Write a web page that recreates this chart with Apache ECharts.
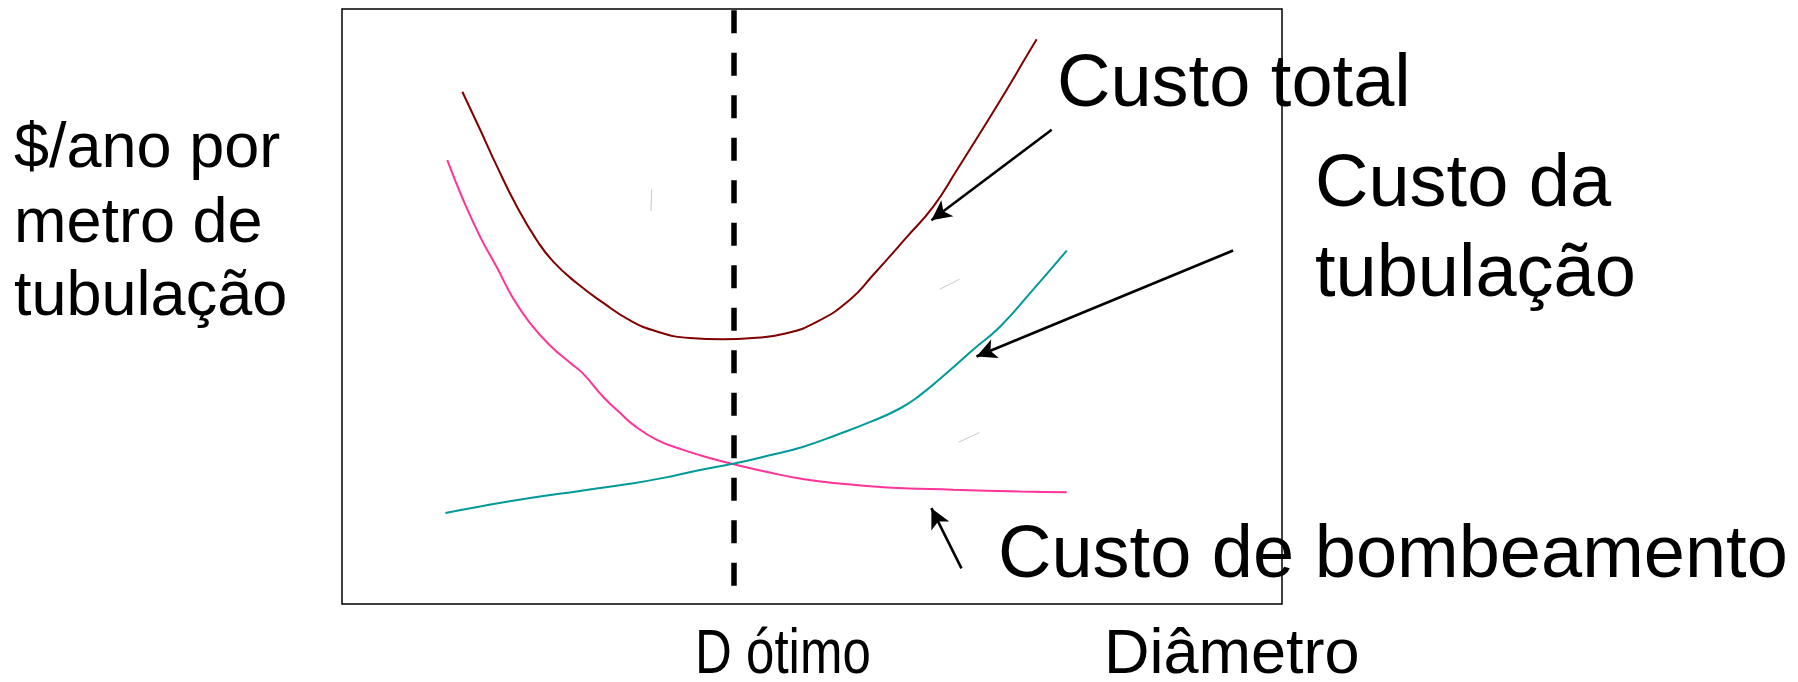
<!DOCTYPE html>
<html>
<head>
<meta charset="utf-8">
<script src="https://cdn.jsdelivr.net/npm/echarts@6/dist/echarts.min.js"></script>
<style>
  html, body { margin: 0; padding: 0; background: #fff; }
  #grafico { width: 1798px; height: 682px; }
</style>
</head>
<body>
<div id="grafico"></div>
<script>
// curvas (diametro 0-100, custo 0-100)
var custoTotal = [
  [12.8, 86.1], [14.7, 79.7], [16.5, 73.5], [18.6, 66.8], [20.7, 61.2], [22.5, 57.5],
  [25.0, 53.9], [27.8, 50.6], [30.6, 47.7], [33.5, 45.8], [37.0, 44.7], [40.5, 44.5],
  [43.7, 44.7], [47.3, 45.5], [50.5, 47.4], [54.0, 51.1], [56.5, 55.3], [60.1, 61.7],
  [62.9, 66.8], [65.4, 72.9], [67.9, 79.2], [70.7, 86.4], [72.8, 92.0], [73.9, 94.9]
];
var custoBombeamento = [
  [11.2, 74.6], [12.9, 67.9], [14.7, 61.7], [16.5, 56.5], [18.2, 51.4], [20.0, 47.2],
  [22.1, 43.5], [24.3, 40.5], [25.6, 38.8], [27.8, 34.8], [29.6, 32.1], [31.0, 30.1],
  [33.5, 27.6], [36.3, 25.9], [39.2, 24.5], [41.7, 23.5], [45.5, 22.1], [49.0, 21.0],
  [52.6, 20.3], [58.0, 19.6], [65.0, 19.2], [72.1, 18.9], [77.1, 18.8]
];
var custoTubulacao = [
  [11.0, 15.3], [14.7, 16.4], [20.0, 17.8], [25.3, 19.0], [30.6, 20.2], [34.2, 21.2],
  [37.7, 22.4], [41.7, 23.6], [45.5, 25.0], [49.0, 26.4], [52.6, 28.4], [56.2, 30.6],
  [59.4, 32.9], [61.5, 35.1], [64.3, 38.8], [67.1, 42.7], [70.0, 46.6], [73.5, 52.8],
  [77.1, 59.4]
];
var dOtimo = 41.7;
var dOtimoFaixa = [3.0, 99.8];
// setas: [origem, ponta]
var setas = [
  [[75.5, 79.7], [62.7, 64.5]],
  [[94.8, 59.4], [67.5, 41.6]],
  [[65.9, 6.0], [62.7, 16.1]]
];
var riscos = [
  [[32.95, 69.7], [32.87, 66.0]],
  [[63.6, 52.9], [65.7, 54.6]],
  [[65.6, 27.2], [67.8, 28.8]]
];
var rotuloEixoY = ['$/ano por', 'metro de', 'tubulação'];
var rotulos = ['Custo total', 'Custo da', 'tubulação', 'Custo de bombeamento'];
var rotulosEixoX = ['D ótimo', 'Diâmetro'];

var myChart = echarts.init(document.getElementById('grafico'));

var fonte = "'Liberation Sans', Arial, sans-serif";

function texto(t, x, y, size, escala) {
  return {
    type: 'text', left: x, top: y - size / 2, silent: true,
    scaleX: escala || 1,
    style: { text: t, fontSize: size, fontFamily: fonte, fill: '#000',
             textVerticalAlign: 'top' }
  };
}

var option = {
  animation: false,
  grid: { left: 342, right: 516, top: 9, bottom: 78, show: true,
          borderColor: '#000', borderWidth: 1.5, backgroundColor: 'transparent' },
  xAxis: { type: 'value', min: 0, max: 100, show: false },
  yAxis: { type: 'value', min: 0, max: 100, show: false },
  series: [
    { name: 'Custo total', type: 'line', data: custoTotal, smooth: 0.5, showSymbol: false,
      lineStyle: { color: '#800000', width: 2 }, silent: true },
    { name: 'Custo de bombeamento', type: 'line', data: custoBombeamento, smooth: 0.5, showSymbol: false,
      lineStyle: { color: '#ff3399', width: 2 }, silent: true },
    { name: 'Custo da tubulação', type: 'line', data: custoTubulacao, smooth: 0.5, showSymbol: false,
      lineStyle: { color: '#009999', width: 2 }, silent: true },
    { type: 'line', data: [], silent: true,
      markLine: {
        silent: true, symbol: ['none', 'none'], label: { show: false },
        lineStyle: { color: '#000', width: 5.5, type: [23, 19.5], cap: 'butt' },
        emphasis: { disabled: true },
        data: [[{ coord: [dOtimo, dOtimoFaixa[1]] }, { coord: [dOtimo, dOtimoFaixa[0]] }]]
      }
    },
    { type: 'line', data: [], silent: true,
      markLine: {
        silent: true, symbol: ['none', 'arrow'], symbolSize: [15, 20], label: { show: false },
        lineStyle: { color: '#000', width: 2.6, type: 'solid' },
        emphasis: { disabled: true },
        data: setas.map(function (s) { return [{ coord: s[0] }, { coord: s[1] }]; })
      }
    },
    { type: 'line', data: [], silent: true,
      markLine: {
        silent: true, symbol: ['none', 'none'], label: { show: false },
        lineStyle: { color: '#c8c8c8', width: 1, type: 'solid' },
        emphasis: { disabled: true },
        data: riscos.map(function (s) { return [{ coord: s[0] }, { coord: s[1] }]; })
      }
    }
  ],
  graphic: [
    texto(rotuloEixoY[0], 14, 150, 63),
    texto(rotuloEixoY[1], 14, 225, 63),
    texto(rotuloEixoY[2], 14, 298, 63),
    texto(rotulos[0], 1057, 86, 74),
    texto(rotulos[1], 1315, 186, 74),
    texto(rotulos[2], 1315, 276, 74),
    texto(rotulos[3], 998, 557, 74),
    texto(rotulosEixoX[0], 695, 656, 63, 0.81),
    texto(rotulosEixoX[1], 1104, 656, 63)
  ]
};
myChart.setOption(option);
</script>
</body>
</html>
